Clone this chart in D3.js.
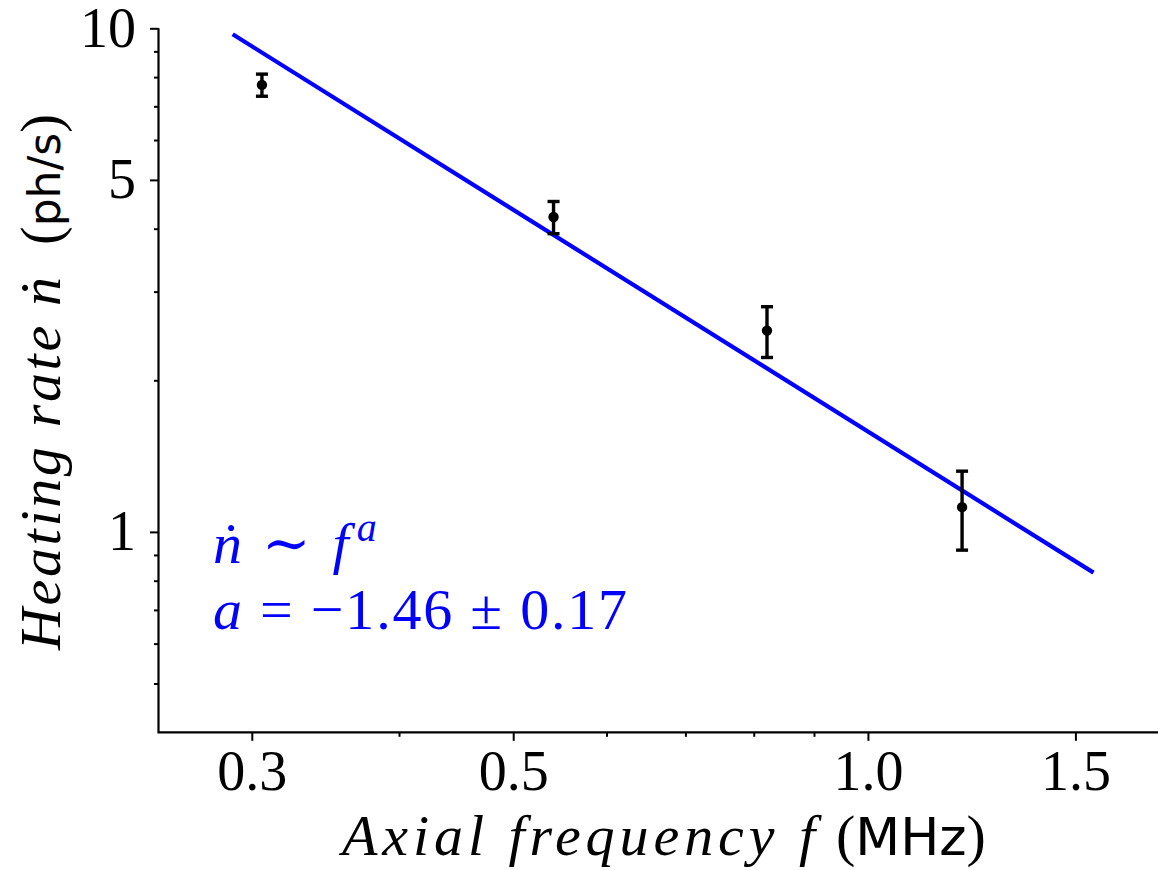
<!DOCTYPE html>
<html>
<head>
<meta charset="utf-8">
<script src="https://d3js.org/d3.v7.min.js"></script>
<style>
  body { margin: 0; background: white; }
</style>
</head>
<body>
<script>
  // measured points (frequency in MHz, heating rate in phonons/s)
  const freq = [0.306, 0.541, 0.821, 1.202];
  const rate = [7.72, 4.22, 2.51, 1.12];
  const rateErr = [0.39, 0.31, 0.29, 0.20];

  // fitted power law, end points of drawn segment
  const fitFreq = [0.289, 1.554];
  const fitRate = [9.73, 0.830];

  // ticks
  const xMajor = [0.3, 0.5, 1.0, 1.5];
  const xMajorLabels = ["0.3", "0.5", "1.0", "1.5"];
  const xMinor = [0.4, 0.6, 0.7, 0.8, 0.9];
  const yMajor = [1, 5, 10];
  const yMajorLabels = ["1", "5", "10"];
  const yMinor = [0.5, 0.6, 0.7, 0.8, 0.9, 2, 3, 4, 6, 7, 8, 9];

  const W = 1158, H = 870;
  const serif = "'Liberation Serif', 'DejaVu Serif', serif";
  const sans = "'DejaVu Sans', sans-serif";

  const svg = d3.select("body")
    .append("svg")
    .attr("width", W)
    .attr("height", H);

  // scales
  const x = d3.scaleLog().domain([0.25, 1.7627]).range([158.5, 1158]);
  const y = d3.scaleLog().domain([0.4, 10]).range([732.3, 28.3]);

  // x axis
  const xAxis = svg.append("g")
    .attr("transform", `translate(0, ${y.range()[0]})`)
    .call(d3.axisBottom(x).tickValues(xMajor)
      .tickFormat((d, i) => xMajorLabels[i])
      .tickSize(8.5).tickSizeOuter(0).tickPadding(9.4));
  xAxis.select(".domain").remove();
  xAxis.selectAll("text")
    .attr("font-family", serif)
    .attr("font-size", 56)
    .attr("fill", "black");

  svg.append("g")
    .attr("transform", `translate(0, ${y.range()[0]})`)
    .call(d3.axisBottom(x).tickValues(xMinor).tickFormat("")
      .tickSize(4.5).tickSizeOuter(0))
    .select(".domain").remove();

  // y axis
  const yAxis = svg.append("g")
    .attr("transform", `translate(${x.range()[0]}, 0)`)
    .call(d3.axisLeft(y).tickValues(yMajor)
      .tickFormat((d, i) => yMajorLabels[i])
      .tickSize(8.5).tickSizeOuter(0).tickPadding(14));
  yAxis.select(".domain").remove();
  yAxis.selectAll("text")
    .attr("font-family", serif)
    .attr("font-size", 56)
    .attr("fill", "black");

  svg.append("g")
    .attr("transform", `translate(${x.range()[0]}, 0)`)
    .call(d3.axisLeft(y).tickValues(yMinor).tickFormat("")
      .tickSize(4.5).tickSizeOuter(0))
    .select(".domain").remove();

  svg.selectAll(".tick line")
    .attr("stroke", "black")
    .attr("stroke-width", 2);

  // spines (left and bottom only)
  svg.append("path")
    .attr("d", `M${x.range()[0]},${y.range()[1]}V${y.range()[0]}H${x.range()[1]}`)
    .attr("fill", "none")
    .attr("stroke", "black")
    .attr("stroke-width", 2.2);

  // fit line
  const fitLine = d3.line()
    .x(d => x(d[0]))
    .y(d => y(d[1]));

  svg.append("path")
    .attr("d", fitLine(d3.zip(fitFreq, fitRate)))
    .attr("fill", "none")
    .attr("stroke", "#0000ff")
    .attr("stroke-width", 4.2);

  // error bars
  const pts = d3.range(freq.length).map(i => ({ f: freq[i], n: rate[i], e: rateErr[i] }));

  const bars = svg.append("g")
    .selectAll("g")
    .data(pts)
    .join("g")
    .attr("stroke", "black")
    .attr("stroke-width", 3.4);

  bars.append("line")
    .attr("x1", d => x(d.f)).attr("x2", d => x(d.f))
    .attr("y1", d => y(d.n + d.e)).attr("y2", d => y(d.n - d.e));
  bars.append("line")
    .attr("x1", d => x(d.f) - 6).attr("x2", d => x(d.f) + 6)
    .attr("y1", d => y(d.n + d.e)).attr("y2", d => y(d.n + d.e));
  bars.append("line")
    .attr("x1", d => x(d.f) - 6).attr("x2", d => x(d.f) + 6)
    .attr("y1", d => y(d.n - d.e)).attr("y2", d => y(d.n - d.e));

  svg.append("g")
    .selectAll("circle")
    .data(pts)
    .join("circle")
    .attr("cx", d => x(d.f))
    .attr("cy", d => y(d.n))
    .attr("r", 5.2)
    .attr("fill", "black");

  // x label
  svg.append("text")
    .attr("x", 342)
    .attr("y", 855)
    .attr("font-family", serif)
    .attr("font-style", "italic")
    .attr("font-size", 58)
    .attr("textLength", 473)
    .text("Axial frequency f");

  const xUnit = svg.append("text")
    .attr("x", 836)
    .attr("y", 855)
    .attr("font-size", 58);
  xUnit.append("tspan").attr("font-family", serif).text("(");
  xUnit.append("tspan").attr("font-family", sans).attr("font-size", 52).text("MHz");
  xUnit.append("tspan").attr("font-family", serif).text(")");

  // y label
  svg.append("text")
    .attr("transform", "translate(60, 650) rotate(-90)")
    .attr("font-family", serif)
    .attr("font-style", "italic")
    .attr("font-size", 58)
    .attr("textLength", 373)
    .text("Heating rate \u1E45");

  const yUnit = svg.append("text")
    .attr("transform", "translate(60, 245) rotate(-90)")
    .attr("font-size", 56);
  yUnit.append("tspan").attr("font-family", serif).text("(");
  yUnit.append("tspan").attr("font-family", sans).attr("font-size", 44).text("ph/s");
  yUnit.append("tspan").attr("font-family", serif).text(")");

  // fit annotation
  const note1 = svg.append("text")
    .attr("x", 213)
    .attr("y", 563)
    .attr("font-family", serif)
    .attr("font-size", 58)
    .attr("fill", "#0000ff");
  note1.append("tspan").attr("font-style", "italic").text("\u1E45");
  note1.append("tspan").attr("dx", 20).text("\u223C");
  note1.append("tspan").attr("dx", 22).attr("font-style", "italic").text("f");
  note1.append("tspan").attr("dx", 8).attr("dy", -22).attr("font-size", 40)
    .attr("font-style", "italic").text("a");

  const note2 = svg.append("text")
    .attr("x", 213)
    .attr("y", 629)
    .attr("font-family", serif)
    .attr("font-size", 58)
    .attr("fill", "#0000ff")
    .attr("textLength", 414);
  note2.append("tspan").attr("font-style", "italic").text("a");
  note2.append("tspan").text(" = \u22121.46 \u00B1 0.17");
</script>
</body>
</html>
